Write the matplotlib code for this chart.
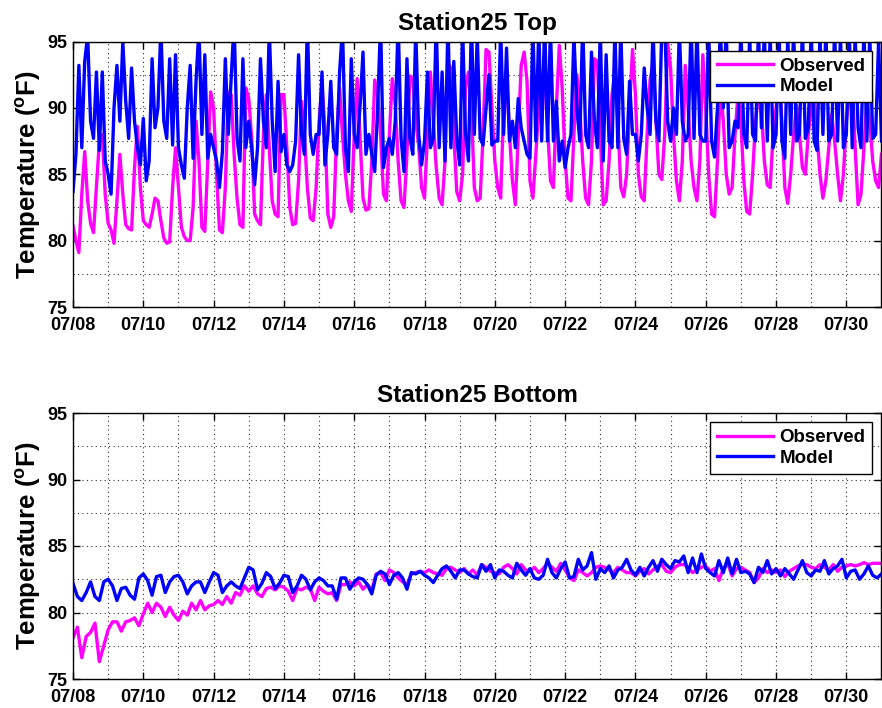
import numpy as np
import matplotlib
matplotlib.use('Agg')
import matplotlib.pyplot as plt
from matplotlib.ticker import MultipleLocator

plt.rcParams['font.family'] = ['Liberation Sans', 'DejaVu Sans']
plt.rcParams['font.weight'] = 'bold'
plt.rcParams['mathtext.fontset'] = 'custom'
plt.rcParams['mathtext.bf'] = 'Liberation Sans:bold'
plt.rcParams['mathtext.rm'] = 'Liberation Sans:bold'
plt.rcParams['mathtext.default'] = 'bf'

# day labels, x = days since 07/08 00:00
date_labels = ['07/08', '07/10', '07/12', '07/14', '07/16', '07/18',
               '07/20', '07/22', '07/24', '07/26', '07/28', '07/30']

# Top sensor, 2-hourly samples (one row per day)
obs_top = [
    81.1, 80.0, 79.1, 83.5, 86.7, 83.0, 81.3, 80.6, 84.0, 87.5, 88.0, 83.5,
    81.3, 80.8, 79.8, 83.0, 86.5, 83.5, 81.2, 80.9, 80.8, 85.5, 88.6, 84.0,
    81.5, 81.2, 81.0, 82.0, 83.2, 83.0, 81.5, 80.2, 79.8, 79.9, 84.0, 87.0,
    84.0, 81.0, 80.3, 80.0, 80.0, 82.5, 89.0, 86.0, 81.0, 80.7, 86.0, 91.2,
    90.0, 85.0, 80.8, 80.6, 84.0, 91.2, 91.0, 86.5, 83.2, 81.2, 81.0, 91.5,
    90.7, 87.7, 82.0, 81.5, 81.2, 88.0, 91.0, 87.0, 83.0, 82.0, 81.8, 91.0,
    91.0, 87.0, 82.5, 81.2, 81.3, 84.5, 90.5, 88.0, 84.0, 81.7, 81.5, 84.0,
    89.0, 91.7, 88.5, 82.0, 81.0, 81.8, 88.0, 91.5, 88.0, 85.0, 83.0, 82.2,
    88.0, 92.2, 87.7, 83.2, 82.3, 82.4, 86.0, 92.1, 91.0, 88.0, 83.5, 83.0,
    88.0, 92.2, 90.2, 86.0, 83.0, 82.5, 86.5, 92.4, 92.2, 89.0, 87.2, 84.0,
    83.2, 88.0, 92.7, 89.0, 85.5, 83.2, 82.7, 86.0, 93.4, 93.0, 88.0, 83.7,
    83.0, 85.0, 91.5, 92.7, 90.0, 84.0, 83.0, 83.2, 88.0, 94.4, 94.2, 90.0,
    86.0, 84.0, 83.2, 90.0, 92.6, 88.0, 84.5, 82.7, 88.0, 93.2, 94.2, 92.0,
    84.5, 83.2, 86.5, 90.0, 92.0, 92.5, 88.5, 84.5, 84.0, 90.0, 94.7, 91.5,
    86.0, 83.2, 83.0, 88.0, 92.5, 90.0, 86.0, 83.2, 82.7, 86.0, 93.7, 93.5,
    88.0, 82.7, 83.0, 86.0, 91.0, 92.7, 89.0, 84.0, 83.3, 85.0, 90.0, 94.4,
    91.0, 85.0, 83.3, 83.0, 88.0, 92.1, 93.4, 89.0, 85.0, 84.6, 88.0, 94.9,
    93.0, 88.0, 84.5, 83.0, 86.0, 93.2, 90.0, 86.0, 84.0, 83.0, 86.0, 94.0,
    90.0, 85.0, 82.0, 81.8, 86.0, 91.5, 89.0, 85.0, 83.5, 84.0, 88.0, 91.0,
    89.0, 84.5, 82.2, 82.0, 85.0, 89.0, 91.0, 90.0, 86.0, 84.2, 84.0, 88.0,
    90.0, 92.0, 89.0, 84.0, 82.8, 85.0, 88.0, 90.2, 88.0, 85.5, 85.0, 88.0,
    90.0, 91.0, 88.0, 85.0, 83.2, 84.5, 87.0, 89.5, 87.5, 85.0, 83.0, 85.0,
    89.0, 91.0, 92.0, 87.0, 82.7, 83.5, 87.0, 90.5, 89.0, 86.0, 84.5, 84.0,
    86.5]

mod_top = [
    83.7, 86.5, 93.2, 87.0, 93.5, 95.5, 89.0, 87.7, 92.7, 86.8, 92.7, 86.0,
    85.0, 83.5, 90.0, 93.2, 89.0, 95.0, 90.5, 87.7, 93.0, 89.0, 87.0, 85.7,
    89.2, 84.5, 86.0, 93.7, 88.5, 90.0, 96.0, 89.0, 87.7, 93.7, 87.2, 94.0,
    87.0, 85.7, 84.7, 90.0, 93.2, 86.2, 92.0, 96.0, 88.0, 94.0, 86.2, 88.0,
    87.0, 86.0, 84.0, 86.7, 93.7, 88.0, 92.2, 96.5, 87.7, 86.0, 93.7, 87.0,
    89.0, 87.0, 84.2, 87.0, 93.7, 89.0, 87.0, 96.0, 89.0, 85.2, 92.0, 86.7,
    88.0, 85.7, 85.2, 85.7, 87.5, 94.0, 88.0, 86.5, 96.5, 88.0, 86.5, 88.0,
    88.0, 92.7, 85.7, 88.0, 92.0, 87.0, 86.5, 92.7, 96.0, 87.0, 85.2, 93.7,
    88.0, 87.0, 90.2, 94.2, 86.5, 88.0, 86.5, 85.2, 90.0, 96.5, 85.5, 87.0,
    87.7, 86.5, 89.0, 96.5, 87.7, 85.2, 93.7, 87.7, 86.5, 96.0, 88.0, 85.7,
    87.5, 92.7, 87.0, 87.7, 96.5, 87.0, 92.7, 86.0, 96.5, 87.0, 93.5, 87.7,
    85.7, 96.0, 88.0, 86.0, 96.5, 88.0, 95.5, 87.7, 87.2, 90.0, 92.5, 87.2,
    87.5, 87.5, 96.0, 88.0, 94.5, 87.5, 89.0, 87.0, 90.7, 88.5, 87.5, 86.5,
    86.2, 96.0, 87.5, 96.0, 87.5, 96.5, 87.5, 96.0, 87.5, 90.5, 86.0, 87.5,
    85.5, 87.0, 88.0, 95.5, 90.0, 87.5, 96.5, 88.0, 87.0, 94.2, 89.0, 87.0,
    96.0, 86.0, 94.0, 87.5, 87.0, 96.0, 87.0, 96.0, 87.7, 86.5, 92.0, 88.0,
    88.0, 86.0, 88.0, 93.0, 90.0, 88.0, 96.0, 89.0, 87.5, 96.0, 96.5, 89.0,
    87.5, 90.0, 88.0, 96.0, 89.0, 87.5, 88.0, 96.5, 87.7, 96.0, 88.0, 87.5,
    87.5, 96.0, 87.5, 86.3, 90.0, 96.0, 90.0, 96.0, 87.0, 87.5, 89.0, 88.5,
    96.0, 88.0, 87.0, 95.5, 88.0, 87.5, 96.0, 88.5, 96.0, 87.5, 95.5, 87.0,
    88.0, 96.0, 87.5, 86.2, 95.5, 88.0, 96.0, 87.5, 88.0, 96.0, 87.7, 88.5,
    96.0, 87.5, 86.8, 95.5, 88.0, 96.0, 87.5, 88.0, 96.0, 87.5, 95.5, 87.0,
    88.0, 96.0, 87.0, 95.5, 88.5, 87.0, 96.0, 87.5, 95.5, 87.7, 88.0, 95.0,
    87.5]

# Bottom sensor, 3-hourly samples (one row per day)
obs_bot = [
    78.1, 78.9, 76.6, 78.2, 78.5, 79.2, 76.3, 77.5,
    78.7, 79.3, 79.3, 78.6, 79.3, 79.4, 79.6, 79.0,
    79.9, 80.7, 80.0, 80.7, 80.4, 79.7, 80.4, 79.8,
    79.4, 80.1, 79.8, 80.7, 80.2, 80.9, 80.2, 80.5,
    80.6, 80.9, 80.6, 81.2, 80.7, 81.5, 81.3, 82.0,
    81.6, 82.0, 81.4, 81.2, 81.8, 81.9, 81.7, 82.0,
    81.9, 81.6, 80.9, 81.8, 81.7, 81.9, 81.8, 80.9,
    81.9, 81.6, 81.4, 81.5, 80.9, 82.1, 82.1, 82.3,
    82.0, 82.3, 81.75, 82.1, 81.7, 82.9, 83.0, 82.4,
    83.2, 83.0, 82.6, 82.3, 82.1, 82.9, 83.0, 83.1,
    83.0, 83.2, 83.0, 82.9, 82.8, 83.3, 83.4, 83.2,
    83.0, 83.3, 82.9, 83.2, 82.8, 83.6, 83.4, 83.1,
    83.0, 82.9, 83.4, 83.6, 83.3, 82.9, 83.6, 83.2,
    83.1, 83.4, 83.0, 83.3, 83.7, 83.4, 83.1, 83.7,
    83.2, 82.6, 82.4, 83.2, 83.0, 82.75, 83.0, 83.4,
    83.5, 83.4, 83.2, 83.0, 83.4, 83.2, 83.0, 83.0,
    82.75, 83.1, 83.3, 82.9, 83.2, 83.5, 83.6, 83.1,
    83.0, 83.4, 83.6, 83.6, 83.4, 83.0, 83.2, 83.4,
    83.5, 83.1, 83.3, 82.4, 83.3, 83.7, 82.75, 83.3,
    83.4, 83.2, 83.0, 82.25, 82.6, 83.3, 83.0, 83.2,
    83.0, 83.2, 82.7, 83.1, 83.3, 83.5, 83.6, 83.6,
    83.4, 83.3, 83.6, 83.4, 83.2, 83.6, 83.1, 83.4,
    83.5, 83.6, 83.5, 83.6, 83.75, 83.6, 83.7, 83.7,
    83.7]

mod_bot = [
    82.2, 81.2, 80.9, 81.5, 82.3, 81.2, 80.9, 82.3,
    82.5, 82.0, 80.9, 81.8, 81.9, 81.3, 81.0, 82.6,
    82.9, 82.4, 81.3, 82.7, 82.8, 81.5, 82.3, 82.7,
    82.8, 82.3, 81.4, 82.0, 82.3, 82.3, 81.5, 82.3,
    83.0, 82.8, 81.5, 82.0, 82.3, 82.0, 81.8, 82.6,
    83.4, 83.2, 81.7, 82.2, 83.0, 82.7, 81.8, 82.2,
    82.8, 82.7, 81.5, 82.0, 82.8, 82.5, 81.7, 82.3,
    82.6, 82.4, 82.0, 82.0, 81.0, 82.6, 82.6, 81.75,
    82.3, 82.6, 82.5, 82.1, 81.4, 82.8, 83.1, 82.9,
    82.1, 82.8, 83.0, 82.6, 81.75, 83.0, 82.9, 83.1,
    82.8, 82.6, 82.25, 82.8, 83.3, 83.5, 83.1, 82.6,
    83.2, 83.2, 82.9, 82.7, 82.6, 83.6, 83.1, 83.6,
    82.6, 83.2, 83.1, 82.8, 82.6, 83.7, 83.2, 82.8,
    83.3, 82.6, 82.5, 82.8, 84.0, 83.0, 82.6, 83.3,
    83.8, 82.6, 82.7, 84.0, 83.2, 83.5, 84.5, 82.5,
    83.3, 83.0, 83.5, 82.6, 83.2, 83.4, 84.0, 83.2,
    82.8, 83.4, 82.75, 83.4, 83.9, 83.1, 84.0, 83.6,
    83.3, 83.9, 83.8, 84.25, 83.0, 84.1, 83.0, 84.4,
    83.3, 83.0, 82.75, 83.9, 83.0, 84.1, 82.9, 84.0,
    83.0, 83.1, 82.9, 82.25, 83.4, 83.0, 83.9, 82.9,
    83.3, 82.75, 83.3, 82.9, 82.5, 83.2, 83.9, 83.0,
    82.75, 83.2, 83.1, 83.9, 82.9, 83.3, 83.5, 84.0,
    82.6, 83.1, 83.2, 82.5, 82.9, 83.5, 82.8, 82.6,
    82.9]

t_top = np.arange(len(obs_top)) * 2.0 / 24.0
t_bot = np.arange(len(obs_bot)) * 3.0 / 24.0


def draw_panel(ax, t, obs, mod, title):
    ax.plot(t, obs, color='#ff00ff', lw=2.4, label='Observed')
    ax.plot(t, mod, color='#0000ff', lw=2.4, label='Model')
    ax.set_xlim(0, 23)
    ax.set_ylim(75, 95)
    ax.set_xticks(np.arange(0, 23, 2))
    ax.set_xticklabels(date_labels)
    ax.xaxis.set_minor_locator(MultipleLocator(1))
    ax.set_yticks([75, 80, 85, 90, 95])
    ax.yaxis.set_minor_locator(MultipleLocator(2.5))
    ax.grid(True, which='both', linestyle=(0, (1, 3)), color='#333333', lw=0.8)
    ax.tick_params(which='major', direction='in', top=True, right=True,
                   length=5, width=1, labelsize=13)
    ax.tick_params(axis='x', which='major', pad=7.5)
    ax.tick_params(axis='y', which='major', pad=4)
    ax.tick_params(which='minor', length=0)
    for lab in ax.get_xticklabels() + ax.get_yticklabels():
        lab.set_fontweight('bold')
    for sp in ax.spines.values():
        sp.set_linewidth(1.0)
    ax.set_title(title, fontsize=17.5, fontweight='bold', pad=8)
    ax.set_ylabel(r'Temperature ($^o$F)', fontsize=18.5, fontweight='bold', labelpad=3)
    leg = ax.legend(loc='upper right', fontsize=13.5, frameon=True, fancybox=False,
                    edgecolor='black', framealpha=1, handlelength=3.0,
                    handletextpad=0.35, borderaxespad=0.5, borderpad=0.35,
                    labelspacing=0.2)
    leg.get_frame().set_linewidth(1.0)


fig = plt.figure(figsize=(8.82, 7.08), dpi=100)
ax1 = fig.add_axes([73 / 882, 1 - 307 / 708, 808.5 / 882, 265.5 / 708])
ax2 = fig.add_axes([73 / 882, 1 - 679 / 708, 808.5 / 882, 266 / 708])

draw_panel(ax1, t_top, obs_top, mod_top, 'Station25 Top')
draw_panel(ax2, t_bot, obs_bot, mod_bot, 'Station25 Bottom')

fig.savefig('out.png', dpi=100)
